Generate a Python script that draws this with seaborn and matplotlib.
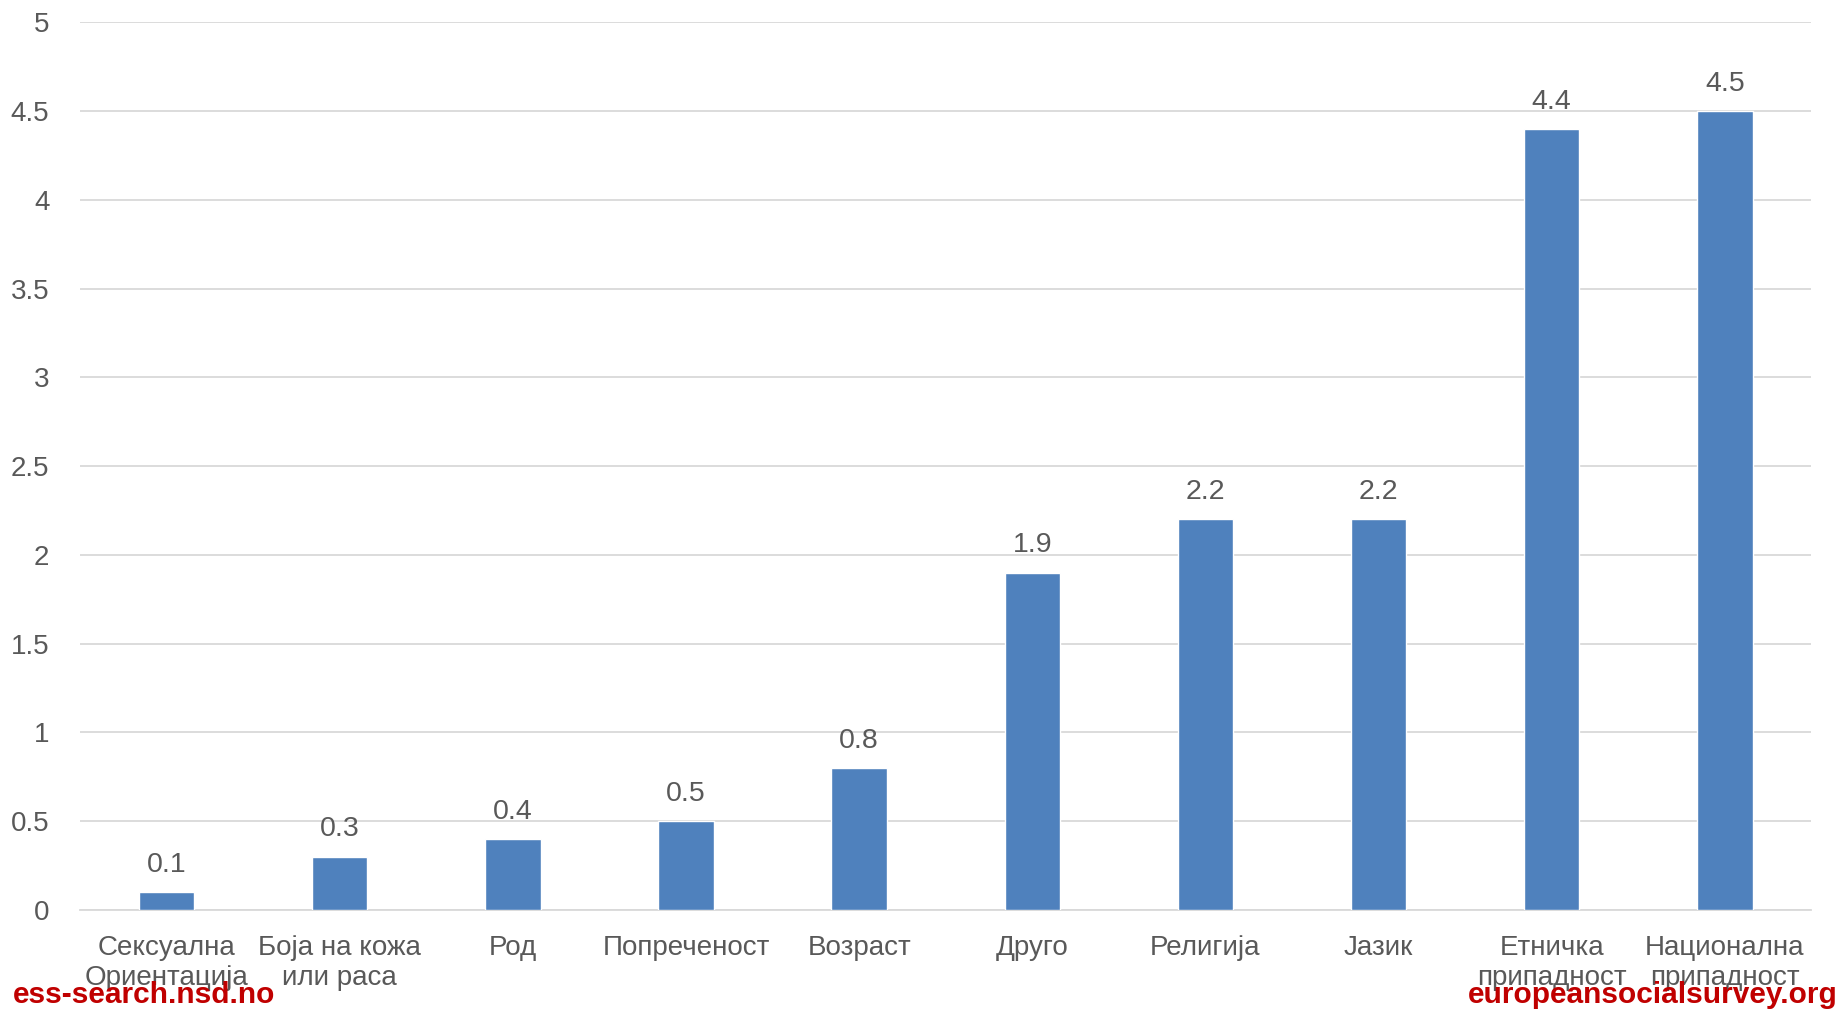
import numpy as np
import pandas as pd
import seaborn as sns
import matplotlib.pyplot as plt

categories = ["Сексуална\nОриентација", "Боја на кожа\nили раса", "Род", "Попреченост",
              "Возраст", "Друго", "Религија", "Јазик", "Етничка\nприпадност",
              "Национална\nприпадност"]
values = [0.1, 0.3, 0.4, 0.5, 0.8, 1.9, 2.2, 2.2, 4.4, 4.5]
y_ticks = [0, 0.5, 1, 1.5, 2, 2.5, 3, 3.5, 4, 4.5, 5]
y_tick_labels = ["0", "0.5", "1", "1.5", "2", "2.5", "3", "3.5", "4", "4.5", "5"]

df = pd.DataFrame({"category": categories, "value": values})

sns.set_theme(style="white")
plt.rcParams['font.family'] = ['Liberation Sans', 'DejaVu Sans']

text_col = "#595959"
fig = plt.figure(figsize=(18.39, 10.11), dpi=100)
ax = fig.add_axes([0.0435, 0.1, 0.9415, 0.878])

sns.barplot(data=df, x="category", y="value", color="#4F81BD", saturation=1,
            width=0.32, ax=ax, zorder=3)

ax.set_ylim(0, 5)
ax.set_yticks(y_ticks)
ax.set_yticklabels(y_tick_labels)
ax.yaxis.grid(True, color="#D9D9D9", linewidth=1.3, zorder=0)
ax.set_axisbelow(True)
for s in ["left", "right", "top"]:
    ax.spines[s].set_visible(False)
ax.spines["bottom"].set_color("#D9D9D9")
ax.spines["bottom"].set_linewidth(1.3)
ax.tick_params(axis="both", length=0, labelsize=20, colors=text_col)
ax.tick_params(axis="x", pad=18)
ax.tick_params(axis="y", pad=22)
ax.set_xlabel("")
ax.set_ylabel("")
for lbl in ax.get_xticklabels():
    lbl.set_linespacing(1.2)

for i, v in enumerate(values):
    ax.text(i, v + 0.08, f"{v:g}", ha="center", va="bottom", fontsize=20.5, color=text_col)

fig.text(0.007, 0.002, "ess-search.nsd.no", color="#C00000", fontsize=21.5,
         fontweight="bold", ha="left", va="bottom")
fig.text(0.999, 0.002, "europeansocialsurvey.org", color="#C00000", fontsize=21.5,
         fontweight="bold", ha="right", va="bottom")

fig.savefig("out.png", dpi=100)
